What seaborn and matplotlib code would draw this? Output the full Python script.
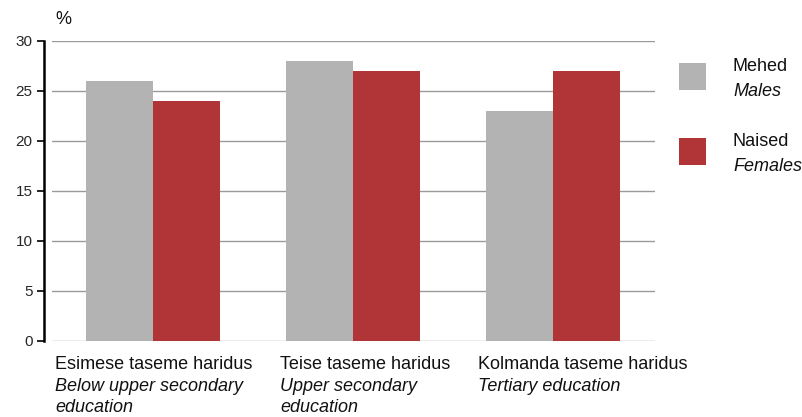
import matplotlib
matplotlib.use("Agg")
import matplotlib.pyplot as plt
from matplotlib.patches import Rectangle
import seaborn as sns
import pandas as pd

# ── Data ────────────────────────────────────────────────────────────────
categories = ["Esimese taseme haridus", "Teise taseme haridus", "Kolmanda taseme haridus"]
categories_en = [["Below upper secondary", "education"],
                 ["Upper secondary", "education"],
                 ["Tertiary education"]]
males = [26, 28, 23]
females = [24, 27, 27]
series = ["Mehed", "Naised"]
series_en = ["Males", "Females"]
colors = ["#b3b3b3", "#b13437"]
yticks = [0, 5, 10, 15, 20, 25, 30]

df = pd.DataFrame({
    "cat": categories * 2,
    "sex": [series[0]] * 3 + [series[1]] * 3,
    "val": males + females,
})

sns.set_theme(style="white")
plt.rcParams["font.family"] = ["Liberation Sans", "DejaVu Sans"]

W, H = 802, 417
FS = 13
TXT = "#111111"
fig = plt.figure(figsize=(W / 100, H / 100), dpi=100)
ax = fig.add_axes([52 / W, 76 / H, (655 - 52) / W, 300 / H])

sns.barplot(data=df, x="cat", y="val", hue="sex", palette=colors,
            width=0.67, gap=0, linewidth=0, saturation=1, ax=ax, legend=False)

ax.set_ylim(0, 30)
ax.set_xlim(-0.505, 2.51)
ax.set_yticks(yticks)
ax.set_yticklabels([str(t) for t in yticks], fontsize=FS, color=TXT)
ax.set_xticks([])
ax.set_xlabel("")
ax.set_ylabel("")
ax.grid(axis="y", color="#9a9a9a", linewidth=1)
ax.set_axisbelow(True)
for s in ["top", "right", "bottom"]:
    ax.spines[s].set_visible(False)
ax.spines["left"].set_position(("outward", 6))
ax.spines["left"].set_color("black")
ax.spines["left"].set_linewidth(1.8)
ax.tick_params(axis="y", left=True, length=5, width=1.2, color="black", pad=3)

fig.text(55 / W, 1 - 24 / H, "%", fontsize=FS, color=TXT, va="baseline")

# category labels (regular Estonian line, italic English lines)
label_x = [55, 280, 478]
for x, t, t_en in zip(label_x, categories, categories_en):
    fig.text(x / W, 1 - 369 / H, t, fontsize=FS, color=TXT, va="baseline")
    for i, line in enumerate(t_en):
        fig.text(x / W, 1 - (391 + 21 * i) / H, line, fontsize=FS, color=TXT,
                 style="italic", va="baseline")

# legend
leg_y = [63, 138]
for y, name, name_en, c in zip(leg_y, series, series_en, colors):
    fig.add_artist(Rectangle((679 / W, 1 - (y + 27) / H), 27 / W, 27 / H,
                             transform=fig.transFigure, color=c, linewidth=0))
    fig.text(733 / W, 1 - (y + 8) / H, name, fontsize=FS, color=TXT,
             va="baseline")
    fig.text(733 / W, 1 - (y + 33) / H, name_en, fontsize=FS, color=TXT,
             style="italic", va="baseline")

fig.savefig("out.png", dpi=100)
plt.close()
